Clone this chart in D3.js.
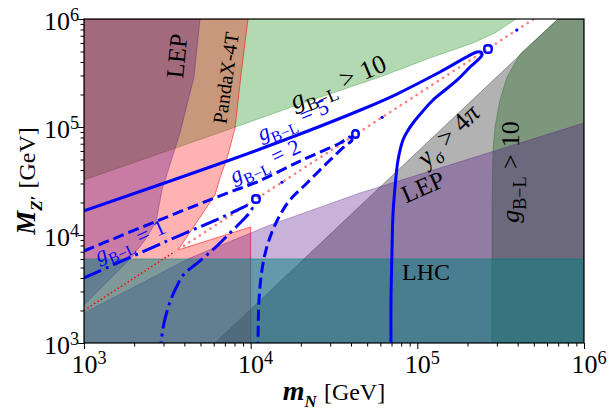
<!DOCTYPE html>
<html>
<head>
<meta charset="utf-8">
<script src="https://cdn.jsdelivr.net/npm/d3@7/dist/d3.min.js"></script>
<style>
html,body{margin:0;padding:0;background:#fff;}
svg{display:block;}
text{font-family:"Liberation Serif","DejaVu Serif",serif;}
</style>
</head>
<body>
<svg id="chart" width="611" height="419"></svg>
<script>
// ---------- data (GeV) ----------
const xDomain = [1e3, 1e6];
const yDomain = [1e3, 1e6];
const majorTicks = [1e3, 1e4, 1e5, 1e6];
const majorTickExp = ["3", "4", "5", "6"];

// excluded-region boundaries [m_N, M_Z']
const greenTopEdge = [[1000,32300],[7830,97900],[19800,163300],[59700,290400],[119100,435500],[215800,599500],[292400,742000],[390800,1000000]];
const greenRightEdge = [[280500,1000],[280500,17040],[284400,61240],[292400,100000],[313300,177800],[345100,290400],[418800,484300],[698200,1000000]];
const yukawaEdge = [[6110,1000],[698200,1000000]];
const pandaxEdge = [[9638,1000000],[8750,303000],[8054,97900],[7311,55050],[6546,33710],[6110,23460],[3664,7262],[10000,11860],[10000,1000]];
const lepLeftEdge = [[1000,2248],[1941,6257],[2323,8990],[2704,13190],[2938,26100],[3767,88000],[4571,290400],[4966,1000000]];
const lepLowEdge = [[1000,1896],[4325,6124],[13060,12380],[45290,24480],[1000000,108900]];
const lhcLimit = 6000;

// resonance M_Z' = 2 m_N
const resonanceLow = [[1000,2000],[3500,7000]];
const resonanceHigh = [[3700,7400],[500000,1000000]];
const resonanceDots = [[15400,30800],[61500,123000],[395000,790000]];

// relic-density contours
const gBL5 = [[1000,16700],[7520,49500],[19800,86100],[47200,146800],[75500,202000],[136800,323000],[228000,494700],[241000,494700],
  [244000,464000],[207000,359000],[173000,272000],[146600,220000],[124200,177800],[108100,140600],[94200,108900],[86700,89900],
  [82000,75800],[76600,49500],[73500,27800],[71400,15300],[70500,7260],[69500,2500],[69500,1000]];
const gBL5Loop = [[254700,562300],[276700,562300],[276700,494700],[254700,494700]];
const gBL2 = [[1000,7110],[2740,13480],[7520,25000],[10910,30950],[19800,48400],[34400,71100],[39400,80800],
  [40550,75800],[36800,66700],[28700,46400],[21800,30300],[17200,21100],[15000,15300],[13430,10660],[12360,7260],
  [11690,4740],[11220,2500],[11070,1000]];
const gBL2Loop = [[41100,91800],[44060,91800],[44060,80800],[41100,80800]];
const gBL1 = [[1000,4000],[3150,8800],[7210,15300],[9120,18170],[9770,18960],[10190,17780],
  [10050,16700],[8870,13480],[7830,11130],[6550,8430],[5470,6530],[4630,5280],[3981,4350],[3565,3230],
  [3280,2400],[3105,1817],[2980,1377],[2900,1000]];
const gBL1Loop = [[10330,22970],[11220,22970],[11220,20210],[10330,20210]];

// ---------- drawing ----------
const svg = d3.select("#chart");
const x = d3.scaleLog().domain(xDomain).range([84, 584]);
const y = d3.scaleLog().domain(yDomain).range([343, 19]);

svg.append("defs").append("clipPath").attr("id","plotclip")
  .append("rect").attr("x",84).attr("y",19).attr("width",500).attr("height",324);
const plot = svg.append("g").attr("clip-path","url(#plotclip)");

function polyPath(pts){ return "M" + pts.map(d => x(d[0]) + "," + y(d[1])).join("L") + "Z"; }

const regions = [
  {pts: greenTopEdge.concat([[1000,1e6]]), c:"#008000", a:0.3},
  {pts: greenRightEdge.concat([[1e6,1e6],[1e6,1000]]), c:"#008000", a:0.3},
  {pts: yukawaEdge.concat([[1e6,1e6],[1e6,1000]]), c:"#000000", a:0.3},
  {pts: pandaxEdge.concat([[1000,1000],[1000,1e6]]), c:"#ff0000", a:0.3, sa:0.55},
  {pts: lepLeftEdge.concat([[1000,1e6]]), c:"#4b0082", a:0.3},
  {pts: lepLowEdge.concat([[1e6,1000],[1000,1000]]), c:"#4b0082", a:0.3},
  {pts: [[1000,lhcLimit],[1e6,lhcLimit],[1e6,1000],[1000,1000]], c:"#008080", a:0.5}
];
regions.forEach(r => {
  plot.append("path").attr("d", polyPath(r.pts))
    .attr("fill", r.c).attr("fill-opacity", r.a)
    .attr("stroke", r.c).attr("stroke-opacity", r.sa || r.a).attr("stroke-width", 1);
});

const line = d3.line().x(d => x(d[0])).y(d => y(d[1]));
const smooth = d3.line().x(d => x(d[0])).y(d => y(d[1])).curve(d3.curveCatmullRom.alpha(0.5));

plot.append("path").attr("d", line(resonanceLow)).attr("fill","none")
  .attr("stroke","#ff0000").attr("stroke-width",1.5).attr("stroke-dasharray","1.5,2.5");
plot.append("path").attr("d", line(resonanceHigh)).attr("fill","none")
  .attr("stroke","#ff7f7f").attr("stroke-width",2.6).attr("stroke-linecap","round").attr("stroke-dasharray","0.1,6.2");

const blue = "#0000ff";
plot.append("path").attr("d", smooth(gBL5)).attr("fill","none").attr("stroke",blue).attr("stroke-width",3);
plot.append("path").attr("d", smooth(gBL2)).attr("fill","none").attr("stroke",blue).attr("stroke-width",3).attr("stroke-dasharray","11,5");
plot.append("path").attr("d", smooth(gBL1)).attr("fill","none").attr("stroke",blue).attr("stroke-width",3).attr("stroke-dasharray","19,5,3,5");
const loop = d3.line().x(d => x(d[0])).y(d => y(d[1])).curve(d3.curveCatmullRomClosed);
[gBL5Loop, gBL2Loop, gBL1Loop].forEach(l => {
  plot.append("path").attr("d", loop(l)).attr("fill","none").attr("stroke",blue).attr("stroke-width",2.5);
});
plot.selectAll("circle.rd").data(resonanceDots).enter().append("circle")
  .attr("cx", d => x(d[0])).attr("cy", d => y(d[1])).attr("r", 1.6).attr("fill", blue);

// ---------- text helpers ----------
function rich(t, parts, fs){
  let shift = 0;
  parts.forEach(p => {
    const ts = t.append("tspan").text(p.t);
    if (p.it) ts.attr("font-style","italic");
    if (p.b) ts.attr("font-weight","bold");
    let target = 0, size = fs;
    if (p.sub){ target = 0.28*fs; size = 0.7*fs; }
    if (p.sup){ target = -0.36*fs; size = 0.7*fs; }
    ts.attr("font-size", size);
    if (p.dx) ts.attr("dx", p.dx*fs);
    if (target !== shift){ ts.attr("dy", target - shift); shift = target; }
  });
}
function label(px, py, rot, parts, fs, color){
  const t = svg.append("text")
    .attr("transform", `translate(${px},${py}) rotate(${rot})`)
    .attr("text-anchor","middle").attr("y", 0.33*fs)
    .attr("font-size", fs).attr("fill", color || "#000");
  rich(t, parts, fs);
  return t;
}
const gsub = [{t:"g", it:1},{t:"B\u2212L", sub:1}];
function rel(sym, val){ return [{t:sym, dx:0.28},{t:val, dx:0.28}]; }

// region labels (anchored in data coordinates)
label(x(3614), y(454500), -84, [{t:"LEP"}], 25);
label(x(7112), y(284300), -82, [{t:"PandaX-4T"}], 20);
label(x(33420), y(261000), -23, gsub.concat(rel(">", "10")), 26);
label(x(17950), y(116100), -23, gsub.concat(rel("=", "5")), 22, blue);
label(x(12190), y(48400), -25, gsub.concat(rel("=", "2")), 22, blue);
label(x(1888), y(8800), -24, gsub.concat(rel("=", "1")), 22, blue);
label(x(152800), y(84330), -44, [{t:"y", it:1},{t:"\u03c3", it:1, sub:1},{t:">", dx:0.28},{t:"4", dx:0.28},{t:"\u03c0", it:1}], 26);
label(x(108100), y(27830), -24, [{t:"LEP"}], 25);
label(x(359700), y(38300), -90, gsub.concat(rel(">", "10")), 26);
svg.append("text").attr("x", x(80910)).attr("y", y(3828)).attr("font-size",24).text("LHC");

// ---------- axes ----------
const minors = [];
[1e3,1e4,1e5].forEach(d => { for (let k=2;k<10;k++) minors.push(d*k); });

const gx = svg.append("g").attr("transform","translate(0,343)");
gx.call(d3.axisBottom(x).tickValues(majorTicks).tickSize(6).tickFormat(() => ""));
gx.call(g => g.append("g").call(d3.axisBottom(x).tickValues(minors).tickSize(3.5).tickFormat(() => "")));
const gy = svg.append("g").attr("transform","translate(84,0)");
gy.call(d3.axisLeft(y).tickValues(majorTicks).tickSize(6).tickFormat(() => ""));
gy.call(g => g.append("g").call(d3.axisLeft(y).tickValues(minors).tickSize(3.5).tickFormat(() => "")));
svg.selectAll(".domain").remove();
svg.selectAll(".tick line").attr("stroke","#000").attr("stroke-width",1);

svg.append("rect").attr("x",84).attr("y",19).attr("width",500).attr("height",324)
  .attr("fill","none").attr("stroke","#000").attr("stroke-width",1.2);

majorTicks.forEach((v,i) => {
  const tx = svg.append("text").attr("x", x(v)+5).attr("y", 373).attr("text-anchor","middle").attr("font-size",26);
  rich(tx, [{t:"10"},{t:majorTickExp[i], sup:1}], 26);
  const ty = svg.append("text").attr("x", 79).attr("y", y(v)+11).attr("text-anchor","end").attr("font-size",26);
  rich(ty, [{t:"10"},{t:majorTickExp[i], sup:1}], 26);
});

// axis titles
const xt = svg.append("text").attr("x",334).attr("y",400).attr("text-anchor","middle").attr("font-size",24);
rich(xt, [{t:"m", it:1, b:1},{t:"N", it:1, b:1, sub:1},{t:"[GeV]", dx:0.3}], 24);
xt.select("tspan").attr("font-size",28);
const yt = svg.append("text").attr("transform","translate(35,181) rotate(-90)").attr("text-anchor","middle").attr("font-size",24);
rich(yt, [{t:"M", it:1, b:1},{t:"Z\u2032", it:1, b:1, sub:1},{t:"[GeV]", dx:0.3}], 24);
yt.select("tspan").attr("font-size",27);
</script>
</body>
</html>
